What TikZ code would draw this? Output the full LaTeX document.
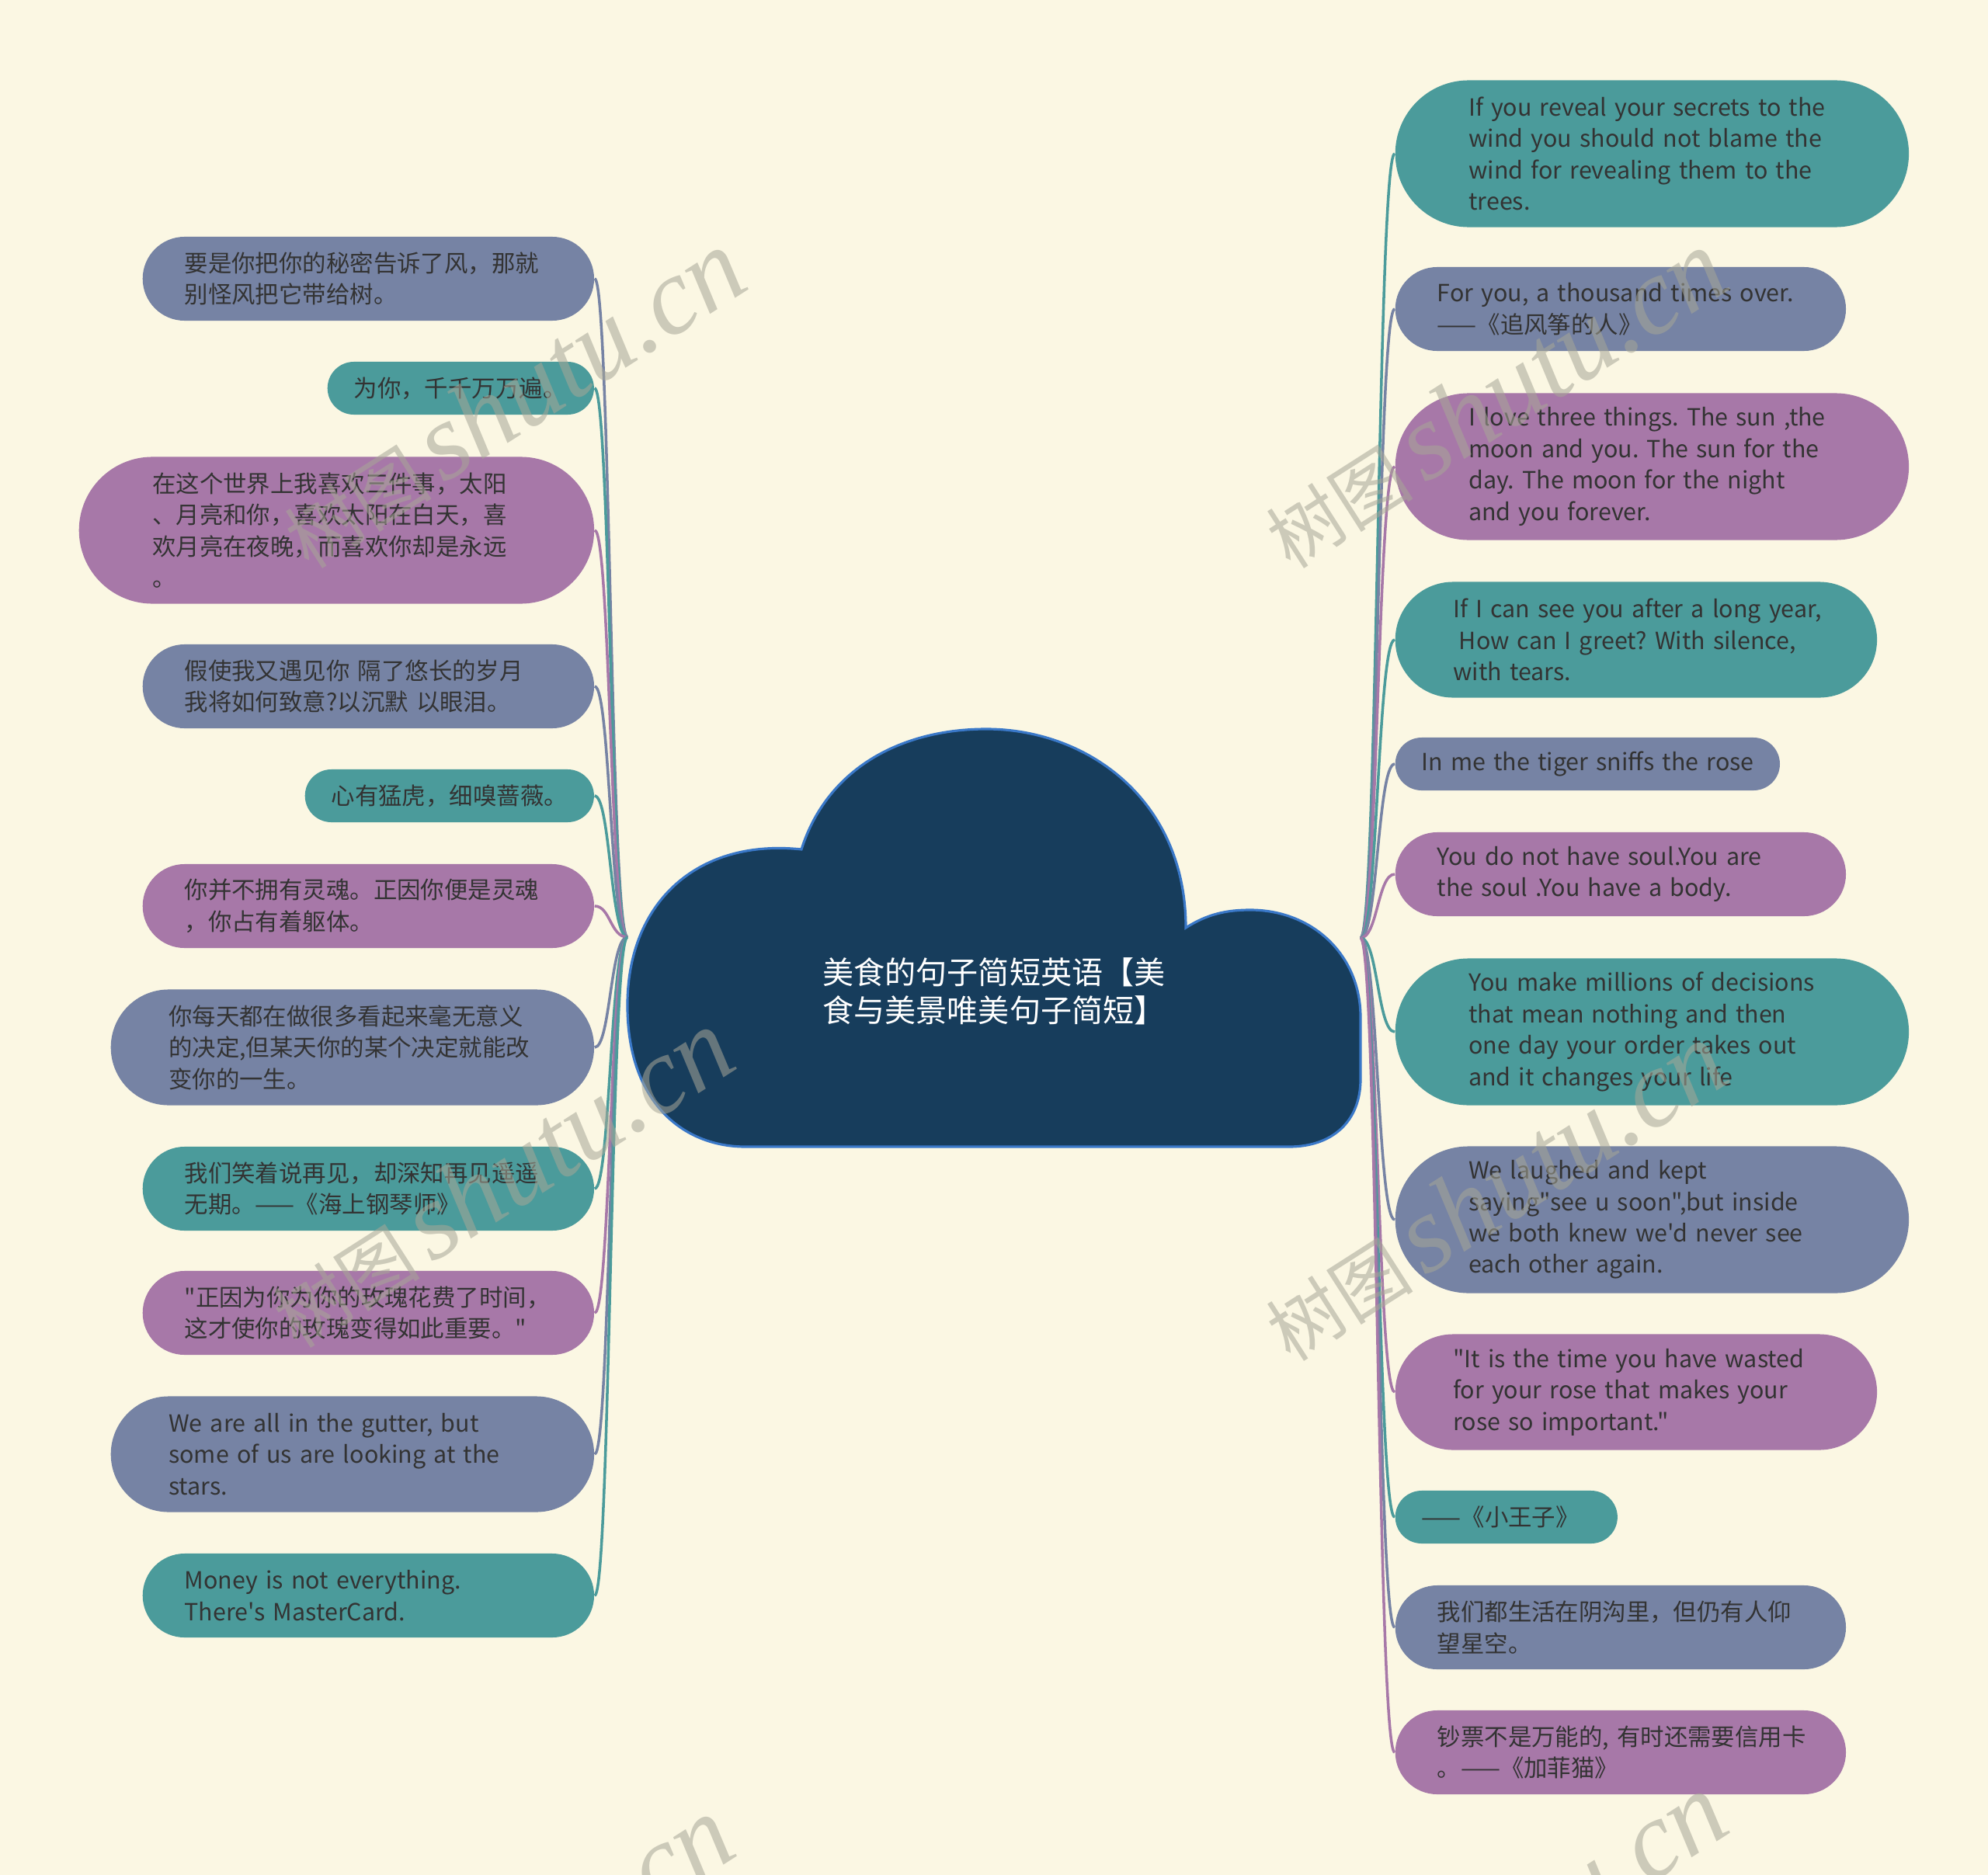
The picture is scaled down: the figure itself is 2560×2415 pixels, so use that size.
\documentclass[tikz,border=0pt]{standalone}
\usepackage{fontspec}
\setmainfont{Noto Sans CJK SC}[Ligatures=TeXOff]
\newfontfamily\wmlatin{Liberation Serif}
\usetikzlibrary{calc}
\definecolor{bg}{HTML}{FBF7E3}
\definecolor{cT}{HTML}{4B9B9B}
\definecolor{cS}{HTML}{7683A4}
\definecolor{cP}{HTML}{A778A8}
\definecolor{cloudF}{HTML}{173D5C}
\definecolor{cloudB}{HTML}{3A78C8}
\definecolor{txt}{HTML}{333333}
\definecolor{wm}{RGB}{167,166,151}
\frenchspacing
\tikzset{
 bub/.style={anchor=west, align=left, inner ysep=0pt, text=txt, font=\fontsize{8.65pt}{11.5pt}\selectfont},
 hA/.style={bub, minimum height=0.68cm, inner xsep=0.34cm, rounded corners=0.34cm},
 hB/.style={bub, minimum height=1.08cm, inner xsep=0.54cm, rounded corners=0.54cm},
 hC/.style={bub, minimum height=1.49cm, inner xsep=0.745cm, rounded corners=0.745cm},
 hD/.style={bub, minimum height=1.89cm, inner xsep=0.945cm, rounded corners=0.945cm},
 link/.style={line width=1pt},
 wmark/.style={text=wm, opacity=0.55, rotate=32.6, inner sep=0pt},
}
\begin{document}
\begin{tikzpicture}[x=0.01cm, y=-0.01cm]
\fill[bg] (0,0) rectangle (2560,2415);
\useasboundingbox (0,0) rectangle (2560,2415);

% hubs
\coordinate (hL) at (808,1207);
\coordinate (mL) at (786,1207);
\coordinate (hR) at (1752,1208);
\coordinate (mR) at (1774,1208);

% left nodes
\node[hB, fill=cS, text width=4.73cm] (l1) at (183,359) {\mbox{要是你把你的秘密告诉了风，那就}\\别怪风把它带给树。};
\node[hA, fill=cT, text width=2.75cm] (l2) at (421,500) {\mbox{为你，千千万万遍。}};
\node[hD, fill=cP, text width=4.74cm] (l3) at (101,683) {\mbox{在这个世界上我喜欢三件事，太阳}\\\mbox{、月亮和你，喜欢太阳在白天，喜}\\\mbox{欢月亮在夜晚，而喜欢你却是永远}\\。};
\node[hB, fill=cS, text width=4.73cm] (l4) at (183,884) {\mbox{假使我又遇见你 隔了悠长的岁月}\\\mbox{我将如何致意?以沉默 以眼泪。}};
\node[hA, fill=cT, text width=3.04cm] (l5) at (392,1025) {\mbox{心有猛虎，细嗅蔷薇。}};
\node[hB, fill=cP, text width=4.73cm] (l6) at (183,1167) {\mbox{你并不拥有灵魂。正因你便是灵魂}\\，你占有着躯体。};
\node[hC, fill=cS, text width=4.73cm] (l7) at (142,1349) {\mbox{你每天都在做很多看起来毫无意义}\\\mbox{的决定,但某天你的某个决定就能改}\\变你的一生。};
\node[hB, fill=cT, text width=4.73cm] (l8) at (183,1531) {\mbox{我们笑着说再见，却深知再见遥遥}\\\mbox{无期。——《海上钢琴师》}};
\node[hB, fill=cP, text width=4.73cm] (l9) at (183,1691) {\mbox{"正因为你为你的玫瑰花费了时间，}\\\mbox{这才使你的玫瑰变得如此重要。"}};
\node[hC, fill=cS, text width=4.73cm] (l10) at (142,1873) {\mbox{We are all in the gutter, but}\\\mbox{some of us are looking at the}\\stars.};
\node[hB, fill=cT, text width=4.73cm] (l11) at (183,2055) {\mbox{Money is not everything.}\\\mbox{There's MasterCard.}};

% right nodes
\node[hD, fill=cT, text width=4.72cm] (r1) at (1796,198) {\mbox{If you reveal your secrets to the}\\\mbox{wind you should not blame the}\\\mbox{wind for revealing them to the}\\trees.};
\node[hB, fill=cS, text width=4.72cm] (r2) at (1796,398) {\mbox{For you, a thousand times over.}\\——《追风筝的人》};
\node[hD, fill=cP, text width=4.72cm] (r3) at (1796,601) {\mbox{I love three things. The sun ,the}\\\mbox{moon and you. The sun for the}\\\mbox{day. The moon for the night}\\\mbox{and you forever.}};
\node[hC, fill=cT, text width=4.71cm] (r4) at (1796,824) {\mbox{If I can see you after a long year,}\\\mbox{\hspace*{0.25em}How can I greet? With silence,}\\with tears.};
\node[hA, fill=cS, text width=4.27cm] (r5) at (1796,984) {\mbox{In me the tiger sniffs the rose}};
\node[hB, fill=cP, text width=4.72cm] (r6) at (1796,1126) {\mbox{You do not have soul.You are}\\\mbox{the soul .You have a body.}};
\node[hD, fill=cT, text width=4.72cm] (r7) at (1796,1329) {\mbox{You make millions of decisions}\\\mbox{that mean nothing and then}\\\mbox{one day your order takes out}\\\mbox{and it changes your life}};
\node[hD, fill=cS, text width=4.72cm] (r8) at (1796,1571) {\mbox{We laughed and kept}\\\mbox{saying"see u soon",but inside}\\\mbox{we both knew we'd never see}\\\mbox{each other again.}};
\node[hC, fill=cP, text width=4.71cm] (r9) at (1796,1793) {\mbox{"It is the time you have wasted}\\\mbox{for your rose that makes your}\\\mbox{rose so important."}};
\node[hA, fill=cT, text width=2.18cm] (r10) at (1796,1954) {\mbox{——《小王子》}};
\node[hB, fill=cS, text width=4.72cm] (r11) at (1796,2096) {\mbox{我们都生活在阴沟里，但仍有人仰}\\望星空。};
\node[hB, fill=cP, text width=4.72cm] (r12) at (1796,2257) {\mbox{钞票不是万能的, 有时还需要信用卡}\\\mbox{。——《加菲猫》}};

% connectors
\foreach \n/\cc in {l1/cS,l2/cT,l3/cP,l4/cS,l5/cT,l6/cP,l7/cS,l8/cT,l9/cP,l10/cS,l11/cT}
  \draw[link, \cc] (\n.east) .. controls (mL |- \n.east) and (mL) .. (hL);
\foreach \n/\cc in {r1/cT,r2/cS,r3/cP,r4/cT,r5/cS,r6/cP,r7/cT,r8/cS,r9/cP,r10/cT,r11/cS,r12/cP}
  \draw[link, \cc] (hR) .. controls (mR) and (mR |- \n.west) .. (\n.west);

% cloud
\filldraw[fill=cloudF, draw=cloudB, line width=0.9pt]
  (960,1477) -- (1660,1477)
  .. controls (1715,1477) and (1752,1445) .. (1752,1390)
  -- (1752,1310)
  .. controls (1752,1230) and (1690,1172) .. (1610,1172)
  .. controls (1580,1172) and (1555,1177) .. (1527,1195)
  .. controls (1527,1030) and (1400,939) .. (1270,939)
  .. controls (1160,939) and (1065,990) .. (1032,1094)
  .. controls (900,1080) and (810,1160) .. (808,1290)
  .. controls (806,1420) and (880,1477) .. (960,1477) -- cycle;
\node[text=white, align=left, font=\fontsize{11.4pt}{14pt}\selectfont] (title) at (1280,1277) {美食的句子简短英语【美\\食与美景唯美句子简短】};

% watermarks
\foreach \p [count=\i] in {(660,514),(1924,514),(645,1518),(1924,1535),(645,2532),(1924,2502)}
  \node[wmark] (wm\i) at \p {\fontsize{27pt}{30pt}\selectfont 树图\,{\wmlatin\itshape\fontsize{40pt}{44pt}\selectfont shutu.cn}};
\end{tikzpicture}
\end{document}
